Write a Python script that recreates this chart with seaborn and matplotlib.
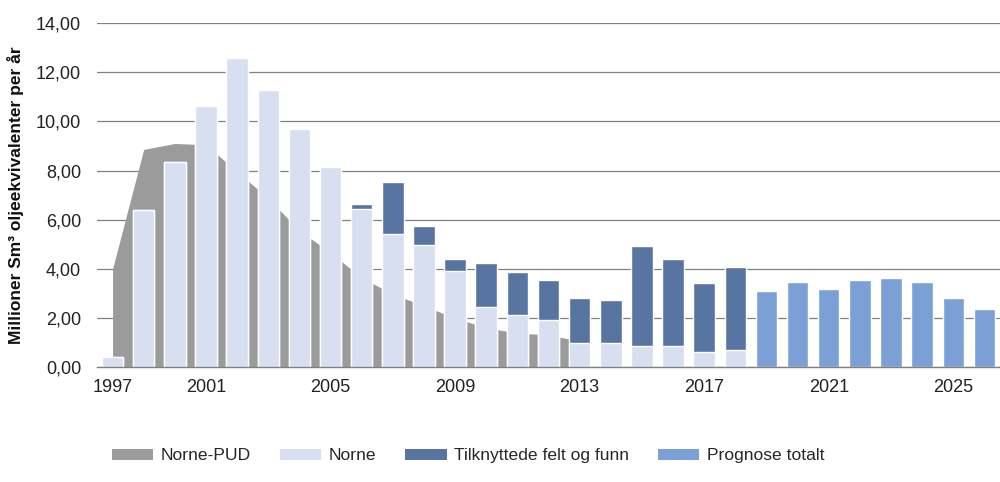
import numpy as np
import pandas as pd
import seaborn as sns
import matplotlib
matplotlib.use("Agg")
import matplotlib.pyplot as plt
from matplotlib.patches import Patch

# data (millioner Sm3 o.e. per år)
years = list(range(1997, 2026))
norne_pud = [4.00, 8.86, 9.10, 9.05, 7.95, 6.87, 5.55, 4.66, 3.63, 2.97,
             2.49, 1.99, 1.60, 1.38, 1.31, 1.05]
norne = [0.42, 6.39, 8.33, 10.64, 12.59, 11.27, 9.67, 8.15, 6.43, 5.40,
         4.95, 3.89, 2.45, 2.10, 1.93, 0.96, 0.96, 0.85, 0.85, 0.60, 0.68]
tilknyttede = [0.0, 0.0, 0.0, 0.0, 0.0, 0.0, 0.0, 0.0, 0.20, 2.12,
               0.80, 0.52, 1.77, 1.78, 1.60, 1.86, 1.77, 4.09, 3.56, 2.83, 3.38]
prognose = [3.08, 3.45, 3.16, 3.53, 3.62, 3.45, 2.82, 2.37]

tick_labels = ["1997", "2001", "2005", "2009", "2013", "2017", "2021", "2025"]
tick_pos = [0, 3, 7, 11, 15, 19, 23, 27]

legend_labels = ["Norne-PUD", "Norne", "Tilknyttede felt og funn", "Prognose totalt"]
c_pud = "#9b9b9b"
c_norne = "#d7dff0"
c_tilk = "#5874a1"
c_prog = "#7ba0d5"

n_hist = len(norne)
hist = pd.DataFrame({"år": years[:n_hist], "Norne": norne, "Tilknyttede": tilknyttede})
hist["Totalt"] = hist["Norne"] + hist["Tilknyttede"]
prog = pd.DataFrame({"år": years[n_hist:], "Prognose": prognose})

sns.set_style("white")
plt.rcParams["font.family"] = ["Liberation Sans", "DejaVu Sans"]

fig = plt.figure(figsize=(10, 4.82), dpi=100)
ax = fig.add_axes([0.097, 0.2386, 0.903, 0.7134])

bw = 0.69
sns.barplot(data=hist, x="år", y="Totalt", order=years, color=c_tilk,
            saturation=1, width=bw, ax=ax, zorder=2)
sns.barplot(data=hist, x="år", y="Norne", order=years, color=c_norne,
            saturation=1, width=bw, ax=ax, zorder=3)
sns.barplot(data=prog, x="år", y="Prognose", order=years, color=c_prog,
            saturation=1, width=bw, ax=ax, zorder=2)

# Norne-PUD as area behind the bars
ax.fill_between(np.arange(len(norne_pud)), norne_pud, color=c_pud, lw=0, zorder=1)

ax.set_xlim(-0.5, len(years) - 0.5)
ax.set_ylim(0, 14)
ax.set_yticks(range(0, 15, 2))
ax.set_yticklabels([f"{v:.2f}".replace(".", ",") for v in range(0, 15, 2)])
ax.set_xticks(tick_pos)
ax.set_xticklabels(tick_labels)
ax.tick_params(axis="y", length=0, pad=11.5, labelsize=13, colors="#222222")
ax.tick_params(axis="x", length=0, pad=9, labelsize=13, colors="#222222")

ax.yaxis.grid(True, color="#808080", lw=0.9, zorder=0)
ax.set_axisbelow(True)
for s in ["top", "right", "left"]:
    ax.spines[s].set_visible(False)
ax.spines["bottom"].set_color("#808080")
ax.spines["bottom"].set_linewidth(1.0)
ax.spines["bottom"].set_zorder(5)

ax.set_xlabel("")
ax.set_ylabel("Millioner Sm³ oljeekvivalenter per år", fontsize=12.5,
              fontweight="bold", color="#111111")
ax.yaxis.set_label_coords(-0.081, 0.5)

handles = [Patch(facecolor=c, edgecolor="none") for c in [c_pud, c_norne, c_tilk, c_prog]]
fig.legend(handles, legend_labels, loc="center left", bbox_to_anchor=(0.096, 0.054),
           ncol=4, frameon=False, fontsize=12.6, handlelength=2.35, handleheight=0.55,
           handletextpad=0.45, columnspacing=1.65)

fig.savefig("out.png", dpi=100)
